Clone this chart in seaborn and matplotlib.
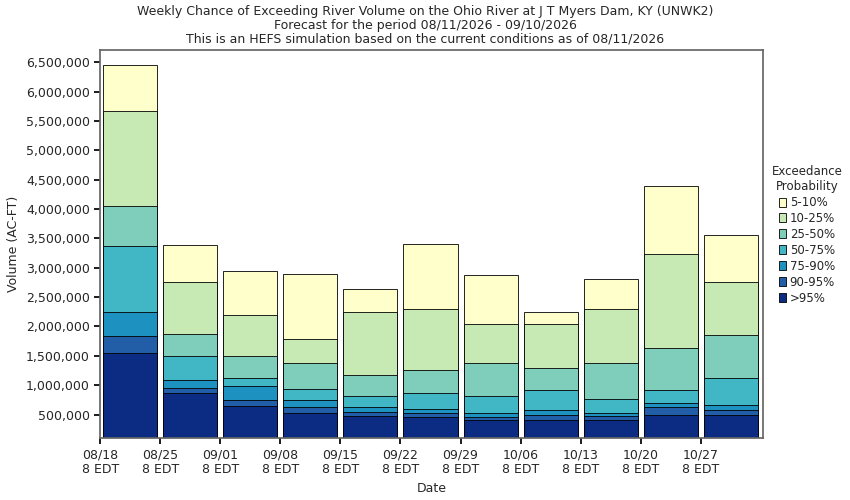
import numpy as np
import matplotlib
matplotlib.use('Agg')
import matplotlib.pyplot as plt
import seaborn as sns
from matplotlib.patches import Patch

sns.set_theme(style='white')
plt.rcParams['font.family'] = ['DejaVu Sans']

week_labels = ['08/18', '08/25', '09/01', '09/08', '09/15', '09/22', '09/29', '10/06', '10/13', '10/20', '10/27']
# cumulative volume at each exceedance level (AC-FT)
p95 = [1555000, 874000, 640000, 520000, 480000, 450000, 415000, 415000, 415000, 500000, 500000]
p90 = [1843000, 960000, 755000, 620000, 550000, 520000, 450000, 500000, 480000, 620000, 570000]
p75 = [2250000, 1095000, 980000, 755000, 620000, 600000, 520000, 570000, 530000, 690000, 670000]
p50 = [3375000, 1490000, 1130000, 940000, 820000, 860000, 820000, 925000, 770000, 910000, 1115000]
p25 = [4050000, 1880000, 1500000, 1370000, 1180000, 1250000, 1385000, 1285000, 1385000, 1625000, 1860000]
p10 = [5670000, 2760000, 2200000, 1790000, 2240000, 2290000, 2050000, 2050000, 2305000, 3240000, 2760000]
p05 = [6450000, 3390000, 2950000, 2900000, 2645000, 3410000, 2880000, 2250000, 2815000, 4390000, 3550000]

layers = [('5-10%', p05, '#ffffcc'), ('10-25%', p10, '#c7e9b4'), ('25-50%', p25, '#7fcdbb'),
          ('50-75%', p50, '#41b6c4'), ('75-90%', p75, '#1d91c0'), ('90-95%', p90, '#225ea8'),
          ('>95%', p95, '#0c2c84')]

fig = plt.figure(figsize=(8.5, 5), dpi=100)
ax = fig.add_axes([0.118, 0.124, 0.78, 0.776])
x = np.arange(len(week_labels)) * 7 + 3.5
for name, vals, col in layers:
    ax.bar(x, vals, width=6.3, color=col, edgecolor='black', linewidth=0.6)

ax.set_xlim(0, 77.3)
ax.set_ylim(100000, 6710000)
ax.set_xticks(np.arange(len(week_labels)) * 7)
ax.set_xticklabels([w + '\n8 EDT' for w in week_labels], fontsize=9)
yt = np.arange(500000, 6500001, 500000)
ax.set_yticks(yt)
ax.set_yticklabels([f'{v:,}' for v in yt], fontsize=9)
ax.tick_params(axis='both', direction='out', length=4, color='black', bottom=True, left=True)
for s in ax.spines.values():
    s.set_color('#666666')
ax.set_xlabel('Date', fontsize=9)
ax.set_ylabel('Volume (AC-FT)', fontsize=9)
fig.text(0.5, 0.99, 'Weekly Chance of Exceeding River Volume on the Ohio River at J T Myers Dam, KY (UNWK2)\n'
         'Forecast for the period 08/11/2026 - 09/10/2026\n'
         'This is an HEFS simulation based on the current conditions as of 08/11/2026',
         ha='center', va='top', fontsize=9, linespacing=1.1)
handles = [Patch(facecolor=c, edgecolor='black', linewidth=0.6, label=n) for n, v, c in layers]
leg = fig.legend(handles=handles, title='Exceedance\nProbability', loc='center left',
                 bbox_to_anchor=(0.898, 0.53), frameon=False, fontsize=8.5, title_fontsize=8.5,
                 handlelength=0.6, handleheight=0.8, handletextpad=0.3, labelspacing=0.25,
                 borderpad=0.2, alignment='center')
leg.get_title().set_multialignment('center')
fig.savefig('out.png', dpi=100)
